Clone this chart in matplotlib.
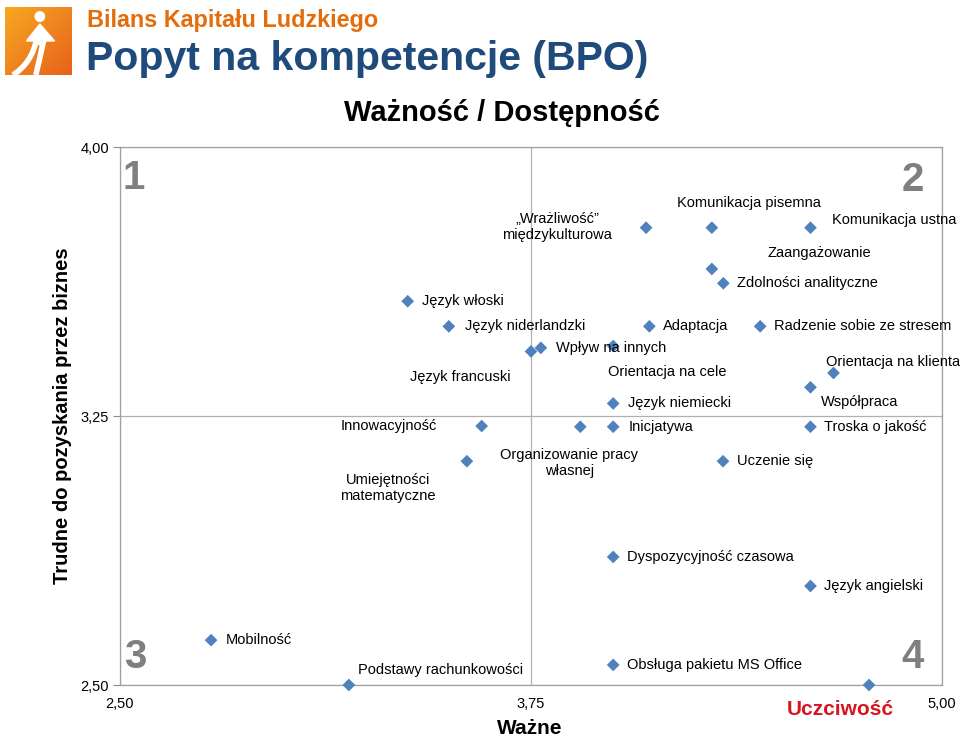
import numpy as np
import matplotlib
matplotlib.use("Agg")
import matplotlib.pyplot as plt
from matplotlib.patches import Circle, Polygon, PathPatch
from matplotlib.path import Path

plt.rcParams['font.family'] = ['Liberation Sans', 'DejaVu Sans']

# ---- data ----
labels = [
    "„Wrażliwość”\nmiędzykulturowa", "Komunikacja pisemna", "Komunikacja ustna",
    "Zaangażowanie", "Zdolności analityczne", "Język włoski", "Język niderlandzki",
    "Adaptacja", "Radzenie sobie ze stresem", "Wpływ na innych", "Język francuski",
    "Orientacja na cele", "Orientacja na klienta", "Współpraca", "Język niemiecki",
    "Inicjatywa", "Troska o jakość", "Innowacyjność", "Organizowanie pracy\nwłasnej",
    "Umiejętności\nmatematyczne", "Uczenie się", "Dyspozycyjność czasowa",
    "Język angielski", "Mobilność", "Podstawy rachunkowości",
    "Obsługa pakietu MS Office", "Uczciwość",
]
waznosc = [4.10, 4.30, 4.60, 4.30, 4.335, 3.375, 3.50, 4.11, 4.447, 3.78, 3.75,
           4.00, 4.67, 4.60, 4.00, 4.00, 4.60, 3.60, 3.90, 3.555, 4.334, 4.00,
           4.60, 2.777, 3.196, 4.00, 4.778]
dostepnosc = [3.775, 3.775, 3.775, 3.66, 3.62, 3.57, 3.50, 3.50, 3.50, 3.44, 3.43,
              3.445, 3.37, 3.33, 3.285, 3.22, 3.22, 3.222, 3.22, 3.124, 3.124,
              2.857, 2.776, 2.625, 2.50, 2.556, 2.50]
x_ticks = [2.50, 3.75, 5.00]
y_ticks = [2.50, 3.25, 4.00]
quadrants = ["1", "2", "3", "4"]

# label placement (offset in pixels, horizontal alignment)
label_pos = {
    "„Wrażliwość”\nmiędzykulturowa": ((-89, 1), 'center'),
    "Komunikacja pisemna": ((37, 25), 'center'),
    "Komunikacja ustna": ((22, 8), 'left'),
    "Zaangażowanie": ((56, 16), 'left'),
    "Zdolności analityczne": ((14, 0), 'left'),
    "Język włoski": ((14, 0), 'left'),
    "Język niderlandzki": ((16, 0), 'left'),
    "Adaptacja": ((14, 0), 'left'),
    "Radzenie sobie ze stresem": ((14, 0), 'left'),
    "Wpływ na innych": ((15, 0), 'left'),
    "Język francuski": ((-20, -26), 'right'),
    "Orientacja na cele": ((54, -26), 'center'),
    "Orientacja na klienta": ((-7, 11), 'left'),
    "Współpraca": ((10, -15), 'left'),
    "Język niemiecki": ((15, 0), 'left'),
    "Inicjatywa": ((15, 0), 'left'),
    "Troska o jakość": ((14, 0), 'left'),
    "Innowacyjność": ((-45, 0), 'right'),
    "Organizowanie pracy\nwłasnej": ((-11, -36), 'center'),
    "Umiejętności\nmatematyczne": ((-79, -27), 'center'),
    "Uczenie się": ((14, 0), 'left'),
    "Dyspozycyjność czasowa": ((14, 0), 'left'),
    "Język angielski": ((14, 0), 'left'),
    "Mobilność": ((15, 0), 'left'),
    "Podstawy rachunkowości": ((9, 15), 'left'),
    "Obsługa pakietu MS Office": ((14, 0), 'left'),
    "Uczciwość": ((-29, -24), 'center'),
}

W, H = 960, 738
fig = plt.figure(figsize=(W / 100, H / 100), dpi=100)

def fx(px):
    return px / W

def fy(py):
    return 1 - py / H

ax = fig.add_axes([fx(120), fy(685), fx(942) - fx(120), fy(147) - fy(685)])
ax.set_xlim(2.5, 5.0)
ax.set_ylim(2.5, 4.0)
ax.set_xticks(x_ticks)
ax.set_yticks(y_ticks)
fmt = lambda v: f"{v:.2f}".replace('.', ',')
ax.set_xticklabels([fmt(v) for v in x_ticks], fontsize=10.5)
ax.set_yticklabels([fmt(v) for v in y_ticks], fontsize=10.5)
ax.tick_params(axis='y', length=5, color='#8c8c8c', width=0.8, pad=3)
ax.tick_params(axis='x', length=0, pad=9)
ax.grid(True, color='#b0b0b0', linewidth=0.9)
ax.set_axisbelow(True)
for s in ax.spines.values():
    s.set_color('#a0a0a0')
    s.set_linewidth(0.9)

ax.scatter(waznosc, dostepnosc, marker='D', s=42, color='#4f81bd', zorder=3,
           clip_on=False, edgecolors='none')

for lab, xv, yv in zip(labels, waznosc, dostepnosc):
    (dx, dy), ha = label_pos[lab]
    if lab == "Uczciwość":
        ax.annotate(lab, (xv, yv), xytext=(dx, dy), textcoords='offset pixels',
                    ha=ha, va='center', fontsize=15, fontweight='bold',
                    color='#d81420', annotation_clip=False)
    else:
        ax.annotate(lab, (xv, yv), xytext=(dx, dy), textcoords='offset pixels',
                    ha=ha, va='center', fontsize=10.5, color='black',
                    multialignment='center', linespacing=1.15,
                    annotation_clip=False)

# quadrant numbers
qpos = [(134, 178), (913, 180), (135, 657), (913, 657)]
for q, (px, py) in zip(quadrants, qpos):
    fig.text(fx(px), fy(py), q, fontsize=29, fontweight='bold', color='#7f7f7f',
             ha='center', va='center')

# axis titles
fig.text(fx(530), fy(728), "Ważne", fontsize=15, fontweight='bold',
         ha='center', va='center')
fig.text(fx(63), fy(416), "Trudne do pozyskania przez biznes", rotation=90,
         fontsize=14.5, fontweight='bold', ha='center', va='center')

# titles
fig.text(fx(87), fy(27), "Bilans Kapitału Ludzkiego", fontsize=16.8,
         fontweight='bold', color='#e46c0a', ha='left', va='baseline')
fig.text(fx(86), fy(70), "Popyt na kompetencje (BPO)", fontsize=29.5,
         fontweight='bold', color='#1f4a7c', ha='left', va='baseline')
fig.text(fx(502), fy(113), "Ważność / Dostępność", fontsize=21,
         fontweight='bold', color='black', ha='center', va='center')

# logo
lax = fig.add_axes([fx(5), fy(75), fx(72) - fx(5), fy(7) - fy(75)])
gx, gy = np.meshgrid(np.linspace(0, 1, 100), np.linspace(0, 1, 100))
t = np.clip((gx + gy) / 2, 0, 1)
c1 = np.array([0.97, 0.66, 0.13])
c2 = np.array([0.91, 0.38, 0.11])
img = c1[None, None, :] * (1 - t[..., None]) + c2[None, None, :] * t[..., None]
lax.imshow(img, extent=[0, 1, 0, 1], origin='upper', aspect='auto')
lax.add_patch(Circle((0.52, 0.86), 0.07, color='white'))
lax.add_patch(Polygon([[0.52, 0.75], [0.32, 0.50], [0.44, 0.50], [0.52, 0.44],
                       [0.62, 0.50], [0.74, 0.50]], closed=True, color='white'))
for (x0, y0), (xc, yc), (x1, y1), lw in [((0.47, 0.52), (0.40, 0.18), (0.12, 0.0), 4.0),
                                           ((0.58, 0.52), (0.52, 0.25), (0.46, 0.0), 4.0)]:
    p = Path([(x0, y0), (xc, yc), (x1, y1)], [Path.MOVETO, Path.CURVE3, Path.CURVE3])
    lax.add_patch(PathPatch(p, facecolor='none', edgecolor='white', lw=lw,
                            capstyle='butt'))
lax.set_xlim(0, 1)
lax.set_ylim(0, 1)
lax.axis('off')

fig.savefig("out.png", dpi=100)
